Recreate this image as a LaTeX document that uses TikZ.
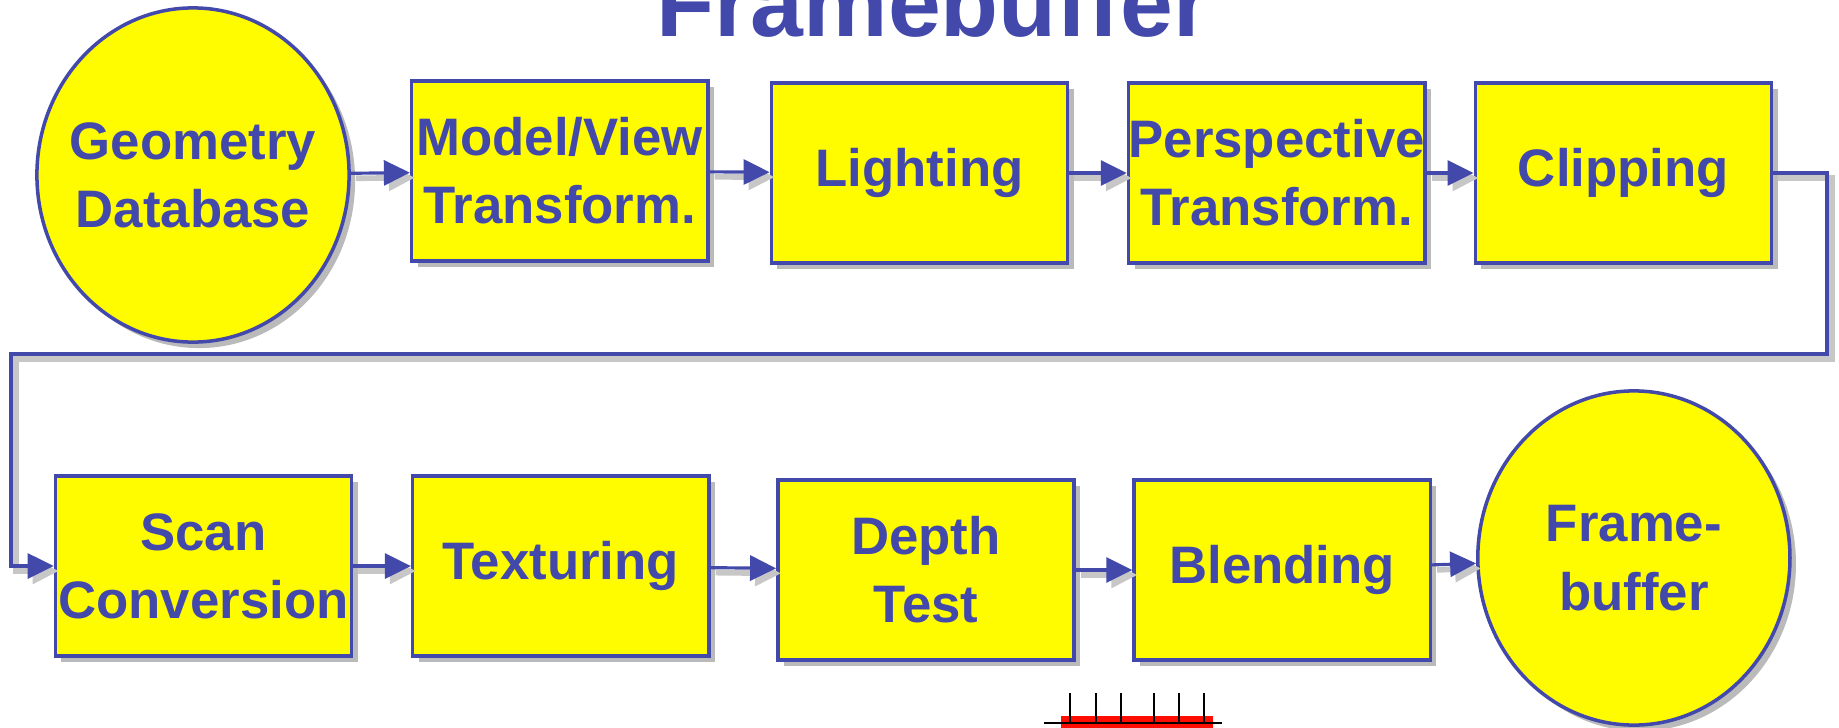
\documentclass[tikz,border=0pt]{standalone}
\usepackage{fontspec}
\setmainfont{Liberation Sans}
\usepackage{tikz}
\usetikzlibrary{shapes,arrows.meta,positioning,shadows}

\definecolor{pipeblue}{RGB}{67,73,170}
\definecolor{pipeyellow}{RGB}{255,252,0}

\begin{document}
\begin{tikzpicture}[
    x=0.01cm, y=-0.01cm,
    font=\fontsize{15pt}{19.4pt}\selectfont\bfseries,
    every node/.style={text=pipeblue},
    stage/.style={rectangle, draw=pipeblue, line width=1pt, fill=pipeyellow, minimum width=2.96cm, minimum height=1.8cm, align=center, inner sep=0pt,
        drop shadow={shadow xshift=0.06cm, shadow yshift=-0.06cm, fill=black!60, opacity=0.45}},
    store/.style={ellipse, draw=pipeblue, line width=1pt, fill=pipeyellow, minimum width=3.12cm, minimum height=3.34cm, align=center, inner xsep=-0.14cm, inner ysep=0pt,
        drop shadow={shadow xshift=0.06cm, shadow yshift=-0.06cm, fill=black!60, opacity=0.45}},
    arrow/.style={-{Triangle[length=0.26cm, width=0.25cm]}, draw=pipeblue, line width=0.9pt,
        preaction={draw=black!22, line width=1.6pt, transform canvas={xshift=0.05cm, yshift=-0.05cm}}}
]
\useasboundingbox (0,0) rectangle (1839,727);

% Title (cut off at the top)
\node[anchor=base, font=\fontsize{27pt}{31pt}\selectfont\bfseries] (title) at (933,36) {Framebuffer};

% Top row
\node[store] (geo) at (193,175) {Geometry\\Database};
\node[stage, right=0.59cm of geo, yshift=0.04cm] (model) {Model/View\\Transform.};
\node[stage, right=0.6cm of model, yshift=-0.02cm] (light) {Lighting};
\node[stage, right=0.575cm of light] (persp) {Perspective\\Transform.};
\node[stage, right=0.47cm of persp] (clip) {Clipping};

% Bottom row
\node[stage] (scan) at (203.5,566) {Scan\\Conversion};
\node[stage, right=0.575cm of scan] (tex) {Texturing};
\node[stage, right=0.655cm of tex, yshift=-0.04cm] (depth) {Depth\\Test};
\node[stage, right=0.565cm of depth] (blend) {Blending};
\node[store, right=0.44cm of blend, yshift=0.12cm] (frame) {Frame-\\buffer};

% Arrows - top row
\draw[arrow] (geo) -- (model);
\draw[arrow] (model) -- (light);
\draw[arrow] (light) -- (persp);
\draw[arrow] (persp) -- (clip);

% Wrap around to the bottom row
\coordinate (wrapR) at (1827,354);
\coordinate (wrapL) at (11,354);
\draw[arrow] (clip.east) -| (wrapR) -- (wrapL) |- (scan.west);

% Arrows - bottom row
\draw[arrow] (scan) -- (tex);
\draw[arrow] (tex) -- (depth);
\draw[arrow] (depth) -- (blend);
\draw[arrow] (blend) -- (frame);

% Scale at the bottom
\draw[red!90!orange, line width=5pt] (1061,725) -- (1213,725);
\draw[black, line width=0.8pt] (1044,723) -- (1222,723);
\foreach \tx in {1070,1096,1121,1154,1179,1204}
    \draw[black, line width=0.8pt] (\tx,693) -- (\tx,723);

\end{tikzpicture}
\end{document}
